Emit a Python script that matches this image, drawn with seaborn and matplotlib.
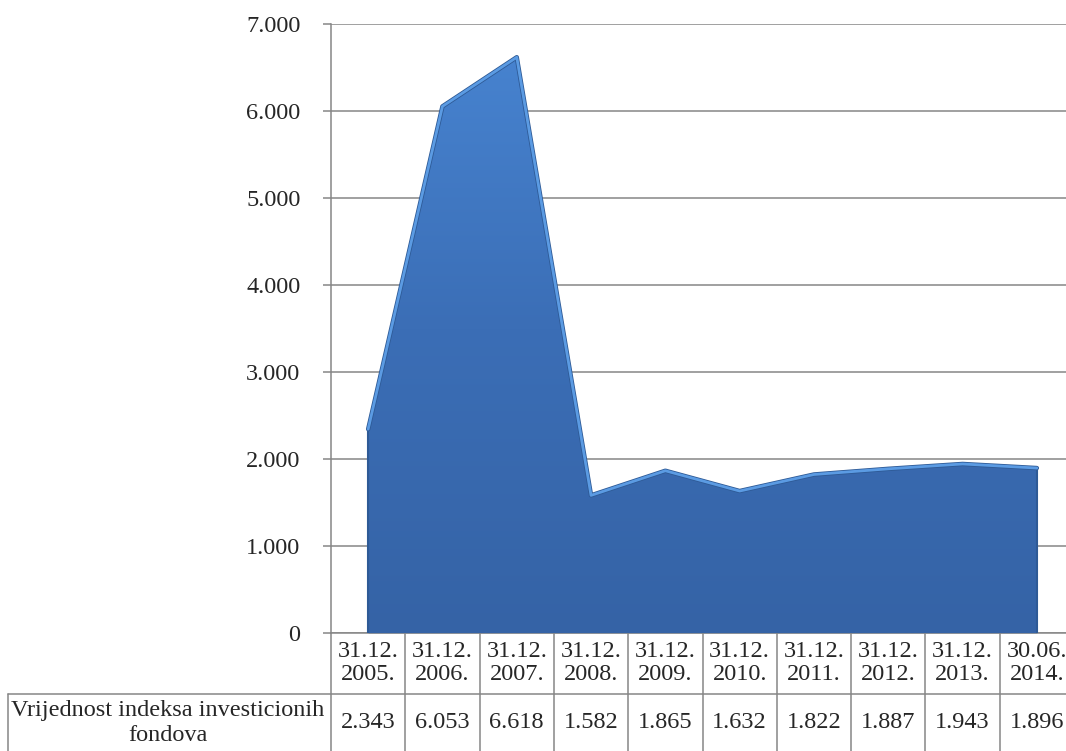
import numpy as np
import pandas as pd
import matplotlib
matplotlib.use("Agg")
import matplotlib.pyplot as plt
import matplotlib.transforms as mtransforms
from matplotlib.ticker import FuncFormatter
import seaborn as sns

# data
dates = ["31.12.\n2005.", "31.12.\n2006.", "31.12.\n2007.", "31.12.\n2008.", "31.12.\n2009.",
         "31.12.\n2010.", "31.12.\n2011.", "31.12.\n2012.", "31.12.\n2013.", "30.06.\n2014."]
values = [2343, 6053, 6618, 1582, 1865, 1632, 1822, 1887, 1943, 1896]
value_labels = ["2.343", "6.053", "6.618", "1.582", "1.865", "1.632", "1.822", "1.887", "1.943", "1.896"]
row_label = "Vrijednost indeksa investicionih\nfondova"
y_ticks = [0, 1000, 2000, 3000, 4000, 5000, 6000, 7000]

sns.set_style("white")
plt.rcParams['font.family'] = ['Liberation Serif', 'DejaVu Serif']
FS = 17.5

W, H = 1066, 751
GRID = "#868686"

df = pd.DataFrame({"pos": np.arange(len(values)), "value": values})

fig = plt.figure(figsize=(W / 100, H / 100), dpi=100)
# plot area: y axis at x=331px, 0 at y=633px, 7.000 at y=24px, column width ~74.3px
ax = fig.add_axes([331 / W, (H - 633) / H, (1074 - 331) / W, (633 - 24) / H])
ax.set_xlim(-0.5, len(values) - 0.5)
ax.set_ylim(0, 7000)

# gradient filled area
poly = ax.fill_between(df["pos"], 0, df["value"], color="#3d70b8", lw=0, zorder=2)
grad = np.linspace(0, 1, 256).reshape(-1, 1)
cmap = matplotlib.colors.LinearSegmentedColormap.from_list("g", ["#3563a6", "#3b6eb6", "#4885d2"])
img = ax.imshow(grad, cmap=cmap, origin="lower", aspect="auto",
                extent=(-0.5, len(values) - 0.5, 0, 7000), zorder=3)
img.set_clip_path(poly.get_paths()[0], transform=ax.transData)

# bevel highlight along the top edge
sns.lineplot(data=df, x="pos", y="value", ax=ax, color="#2e5a96", lw=3.2, zorder=4)
sns.lineplot(data=df, x="pos", y="value", ax=ax, color="#5b9be3", lw=2.0, zorder=5)
ax.vlines([0, len(values) - 1], 0, [values[0], values[-1]], color="#2e5a96", lw=1.5, zorder=4)

# axes styling
ax.set_yticks(y_ticks)
ax.yaxis.set_major_formatter(FuncFormatter(lambda v, p: f"{int(v):,}".replace(",", ".")))
ax.grid(axis="y", color=GRID, lw=1.1, zorder=1)
ax.set_xticks([])
ax.set_xlabel("")
ax.set_ylabel("")
for s in ["top", "right"]:
    ax.spines[s].set_visible(False)
for s in ["left", "bottom"]:
    ax.spines[s].set_color(GRID)
    ax.spines[s].set_linewidth(1.1)
ax.tick_params(axis="y", left=True, length=6, width=1.1, color=GRID, pad=16, labelsize=FS)

# data table under the plot
tr = mtransforms.blended_transform_factory(ax.transData, fig.transFigure)
y_top = (H - 633) / H
y_mid = (H - 694) / H
for i in range(len(values) + 1):
    ax.plot([i - 0.5, i - 0.5], [y_top, -0.02], transform=tr, color=GRID, lw=1.1, clip_on=False)
fig.add_artist(plt.Line2D([8 / W, 1], [y_mid, y_mid], color=GRID, lw=1.1))
fig.add_artist(plt.Line2D([8 / W, 8 / W], [y_mid, -0.02], color=GRID, lw=1.1))

for i, (d, v) in enumerate(zip(dates, value_labels)):
    ax.text(i, (H - 663) / H, d, transform=tr, ha="center", va="center",
            fontsize=FS, linespacing=1.08, clip_on=False)
    ax.text(i, (H - 722) / H, v, transform=tr, ha="center", va="center",
            fontsize=FS, clip_on=False)
fig.text(168 / W, (H - 723) / H, row_label, ha="center", va="center",
         fontsize=FS, linespacing=1.2)

fig.savefig("out.png", dpi=100)
